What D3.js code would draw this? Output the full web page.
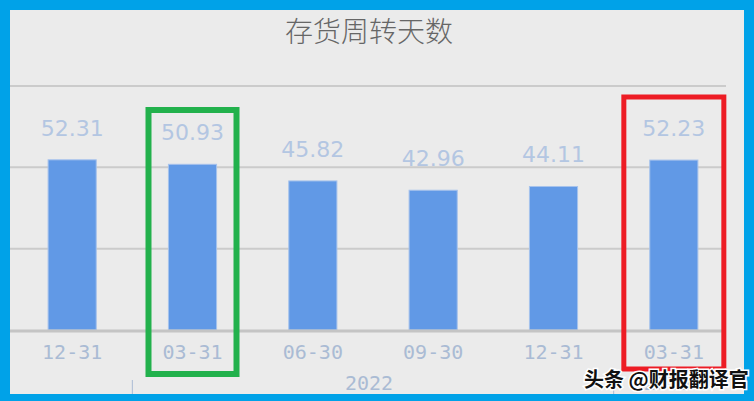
<!DOCTYPE html>
<html>
<head>
<meta charset="utf-8">
<script src="https://cdn.jsdelivr.net/npm/d3@7"></script>
<style>
  html, body { margin: 0; padding: 0; background: #00a2e8; }
  svg { display: block; }
</style>
</head>
<body>
<script>
var width = 754, height = 401;

// chart data
var categories = ['12-31', '03-31', '06-30', '09-30', '12-31', '03-31'];
var years = ['2021', '2022', '2022', '2022', '2022', '2023'];
var values = [52.31, 50.93, 45.82, 42.96, 44.11, 52.23];
var y_ticks = [25, 50, 75];
var title = '存货周转天数';
var watermark = '头条 @财报翻译官';

var frame = { top: 10, right: 10, bottom: 7, left: 10 };

var svg = d3.select('body')
    .append('svg')
    .attr('width', width)
    .attr('height', height);

// blue frame + grey panel
svg.append('rect')
    .attr('width', width).attr('height', height)
    .attr('fill', '#00a2e8');
svg.append('rect')
    .attr('x', frame.left).attr('y', frame.top)
    .attr('width', width - frame.left - frame.right)
    .attr('height', height - frame.top - frame.bottom)
    .attr('fill', '#ebebeb');

var x = d3.scaleBand()
    .domain(d3.range(categories.length))
    .range([12, 734])
    .paddingInner(0.6)
    .paddingOuter(0.3);

var y = d3.scaleLinear()
    .domain([0, 75])
    .range([330, 86]);

var cx = function(i) { return x(i) + x.bandwidth() / 2; };

// title
svg.append('text')
    .attr('x', 369).attr('y', 42)
    .attr('text-anchor', 'middle')
    .style('font-family', '"Noto Sans CJK SC", sans-serif')
    .style('font-size', '28px')
    .style('font-weight', 300)
    .attr('fill', '#666666')
    .text(title);

// grid
svg.append('g')
    .selectAll('line')
    .data(y_ticks)
    .enter()
    .append('line')
    .attr('x1', frame.left).attr('x2', 726)
    .attr('y1', function(d) { return y(d); })
    .attr('y2', function(d) { return y(d); })
    .attr('stroke', '#cbcbcb')
    .attr('stroke-width', 2);

// bars
svg.append('g')
    .selectAll('rect')
    .data(values)
    .enter()
    .append('rect')
    .attr('x', function(d, i) { return x(i); })
    .attr('y', function(d) { return y(d); })
    .attr('width', x.bandwidth())
    .attr('height', function(d) { return y(0) - y(d); })
    .attr('fill', '#6199e6')
    .attr('stroke', '#a6c2ec')
    .attr('stroke-width', 1);

// baseline
svg.append('line')
    .attr('x1', frame.left).attr('x2', 726)
    .attr('y1', y(0) + 1).attr('y2', y(0) + 1)
    .attr('stroke', '#c4c4c4')
    .attr('stroke-width', 3);

// value labels
svg.append('g')
    .selectAll('text')
    .data(values)
    .enter()
    .append('text')
    .attr('x', function(d, i) { return cx(i); })
    .attr('y', function(d) { return y(d) - 24; })
    .attr('text-anchor', 'middle')
    .style('font-family', '"DejaVu Sans", sans-serif')
    .style('font-size', '22px')
    .attr('fill', '#b3c6e2')
    .text(function(d) { return d.toFixed(2); });

// category labels
svg.append('g')
    .selectAll('text')
    .data(categories)
    .enter()
    .append('text')
    .attr('x', function(d, i) { return cx(i); })
    .attr('y', 359)
    .attr('text-anchor', 'middle')
    .style('font-family', '"DejaVu Sans Mono", monospace')
    .style('font-size', '20px')
    .attr('fill', '#aabbd4')
    .text(function(d) { return d; });

// year groups (second level axis)
var year_groups = [];
years.forEach(function(yr, i) {
    var last = year_groups[year_groups.length - 1];
    if (last && last.year === yr) { last.end = i; }
    else { year_groups.push({ year: yr, start: i, end: i }); }
});

var year_axis = svg.append('g');
year_groups.slice(1).forEach(function(g) {
    var sep = (cx(g.start - 1) + cx(g.start)) / 2;
    year_axis.append('line')
        .attr('x1', sep).attr('x2', sep)
        .attr('y1', 380).attr('y2', 394)
        .attr('stroke', '#aabbd4')
        .attr('stroke-width', 1);
});
year_axis.selectAll('text')
    .data(year_groups.slice(1))
    .enter()
    .append('text')
    .attr('x', function(g) {
        return g.start === g.end ? cx(g.start) - 6 : (cx(g.start) + cx(g.end)) / 2 - 4;
    })
    .attr('y', 390)
    .attr('text-anchor', 'middle')
    .style('font-family', '"DejaVu Sans Mono", monospace')
    .style('font-size', '20px')
    .attr('fill', '#aabbd4')
    .text(function(g) { return g.year; });

// highlight boxes
var highlights = [
    { idx: 1, half: 44, top: 110, bottom: 374, color: '#22b14c', sw: 6 },
    { idx: 5, half: 50, top: 97, bottom: 369, color: '#ed1c24', sw: 5 }
];
svg.append('g')
    .selectAll('rect')
    .data(highlights)
    .enter()
    .append('rect')
    .attr('x', function(d) { return cx(d.idx) - d.half; })
    .attr('y', function(d) { return d.top; })
    .attr('width', function(d) { return 2 * d.half; })
    .attr('height', function(d) { return d.bottom - d.top; })
    .attr('fill', 'none')
    .attr('stroke', function(d) { return d.color; })
    .attr('stroke-width', function(d) { return d.sw; });

// bottom / right frame covers axis overflow
svg.append('rect')
    .attr('x', 0).attr('y', height - frame.bottom)
    .attr('width', width).attr('height', frame.bottom)
    .attr('fill', '#00a2e8');
svg.append('rect')
    .attr('x', width - frame.right).attr('y', 0)
    .attr('width', frame.right).attr('height', height)
    .attr('fill', '#00a2e8');

// watermark
svg.append('text')
    .attr('x', 584).attr('y', 387)
    .style('font-family', '"Noto Sans CJK SC", sans-serif')
    .style('font-size', '20px')
    .style('font-weight', 700)
    .attr('fill', '#111111')
    .attr('stroke', '#ffffff')
    .attr('stroke-width', 3)
    .attr('paint-order', 'stroke')
    .text(watermark);
</script>
</body>
</html>
